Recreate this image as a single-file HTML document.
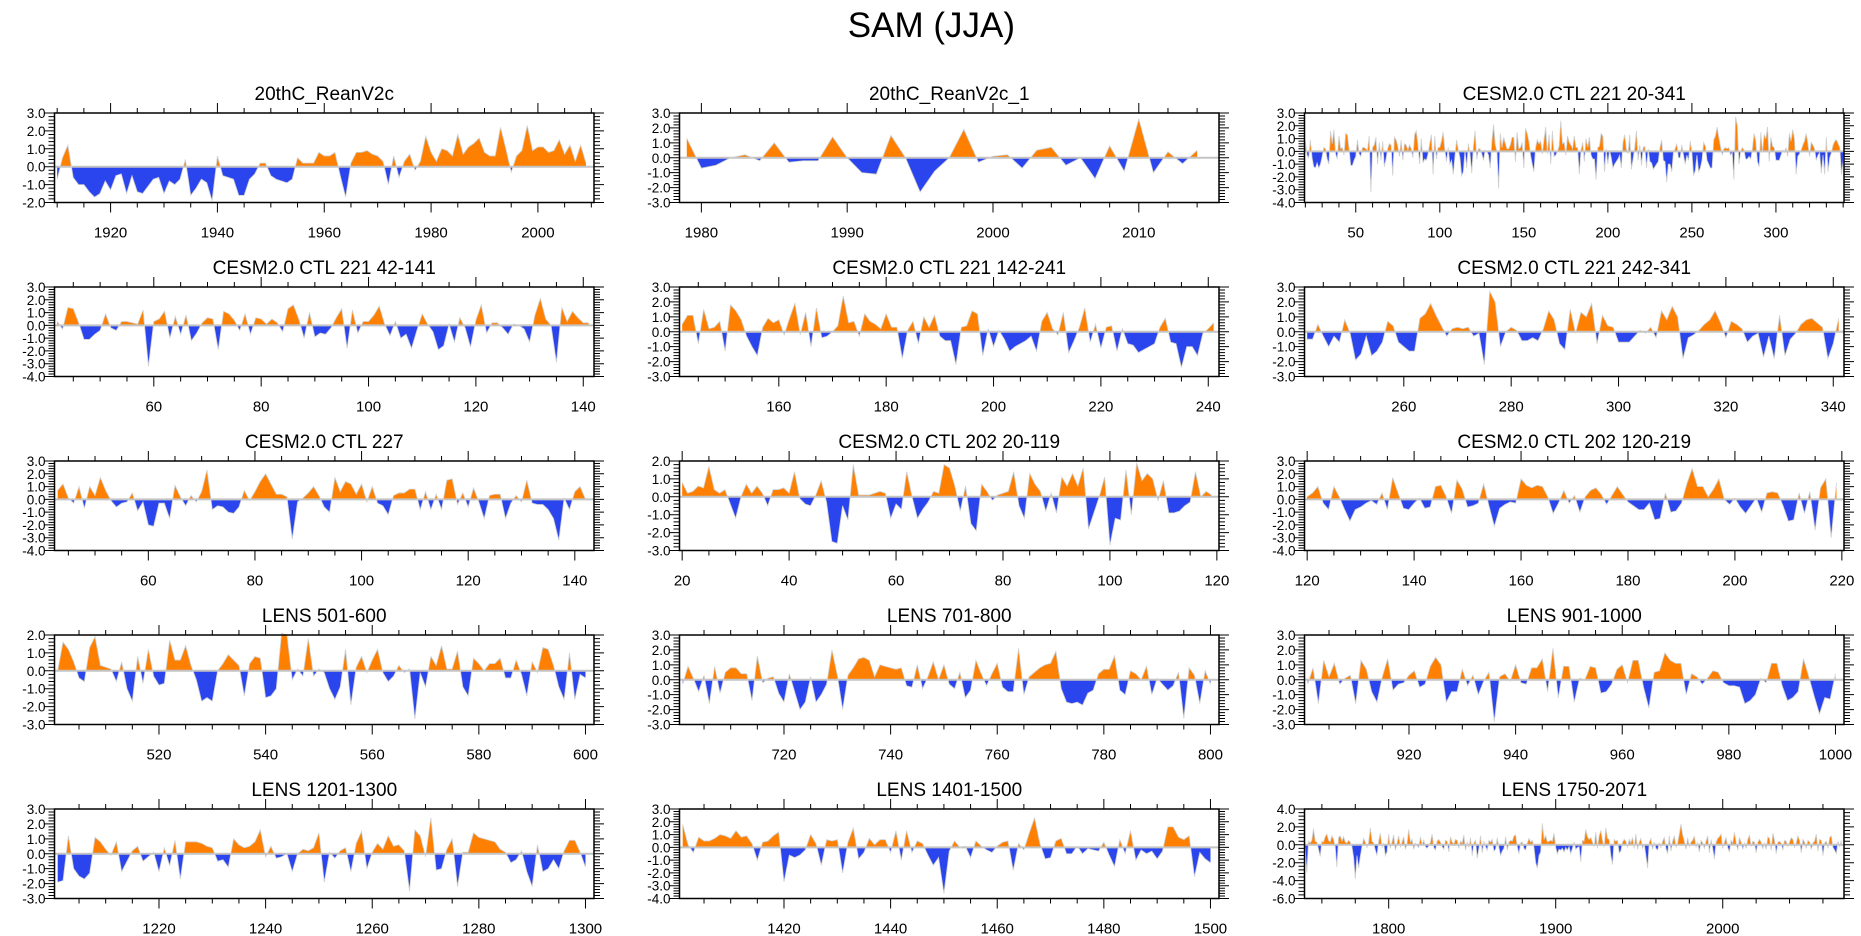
<!DOCTYPE html>
<html><head><meta charset="utf-8"><title>SAM (JJA)</title>
<style>
html,body{margin:0;padding:0;background:#fff;}
svg{display:block;font-family:"Liberation Sans",Arial,sans-serif;}
</style></head>
<body>
<svg id="chart" width="1861" height="936" viewBox="0 0 1861 936" xmlns="http://www.w3.org/2000/svg">
<text x="1015" y="37" text-anchor="end" font-size="35" fill="#000">SAM (JJA)</text>
</svg>
<script>
// ---- data ----
const p1Values=[-0.7,0.5,1.2,-0.6,-1.0,-1.0,-1.4,-1.7,-1.5,-0.8,-1.3,-0.5,-0.4,-1.5,-0.5,-1.4,-1.5,-1.1,-0.7,-0.6,-1.5,-0.8,-1.0,-0.7,0.4,-1.6,-1.2,-0.7,-0.9,-1.9,0.6,-0.5,-0.6,-0.7,-1.6,-1.6,-0.7,-0.4,0.2,0.2,-0.5,-0.7,-0.8,-0.9,-0.7,0.5,0.2,0.2,0.2,0.8,0.6,0.6,0.8,-0.5,-1.7,0.2,0.8,0.8,0.9,0.7,0.6,0.3,-1.0,0.6,-0.6,0.3,0.7,-0.2,0.3,1.7,0.8,0.3,1.0,0.9,0.6,1.8,0.7,1.1,1.3,1.6,0.8,0.6,0.6,2.2,1.0,-0.3,0.6,0.9,2.3,0.9,1.1,1.1,0.8,0.9,1.5,0.7,1.2,0.3,1.2,0.2];
const p2Values=[1.3,-0.7,-0.5,0.0,0.2,-0.2,1.0,-0.3,-0.2,-0.2,1.4,0.0,-1.0,-1.1,1.5,0.0,-2.3,-0.9,0.0,1.9,-0.3,0.1,0.2,-0.7,0.5,0.7,-0.5,0.0,-1.4,0.8,-0.9,2.6,-1.0,0.4,-0.4,0.5];
const p3EarlyValues=[0.8,-0.3,-0.5,0.9,-0.5,-1.2,-1.3,-0.9,-1.3,-1.0,-0.4,0.3,0.2,-0.6,-1.0,1.6,0.6,1.7,-0.2,-0.6,1.2,0.2];
const p4Values=[0.3,-0.3,1.4,1.3,0.2,-1.1,-1.1,-0.7,-0.4,0.9,-0.2,-0.4,0.3,0.3,0.2,0.1,1.2,-3.2,0.3,0.5,1.1,-1.0,0.7,-0.7,0.8,-1.2,-0.6,0.2,0.6,0.5,-1.9,1.1,0.9,0.4,-0.4,0.9,-0.7,0.6,0.5,0.1,0.5,0.2,-0.5,1.3,1.6,0.5,-1.0,1.0,-0.9,-0.6,-0.7,-0.2,0.6,1.3,-1.8,1.2,-0.6,0.3,0.3,0.8,1.5,0.1,-0.8,0.3,-1.0,-0.7,-1.8,-0.4,0.9,0.1,-0.5,-1.9,-1.6,0.1,-1.3,0.6,-0.2,-1.7,0.4,1.6,-0.6,0.2,0.2,-0.2,-0.7,0.1,0.0,-0.3,-1.3,0.8,2.1,0.5,0.0,-2.9,1.4,0.3,1.1,0.6,0.2,0.2];
const p5Values=[0.5,1.1,1.1,-0.8,1.5,0.2,0.3,0.7,-1.3,1.8,1.4,0.8,-0.3,-1.0,-1.6,0.3,0.9,0.6,0.8,-0.2,0.9,1.9,-0.2,1.3,-1.0,1.6,-0.4,-0.3,0.0,0.4,2.4,0.6,0.7,-0.3,1.2,0.7,0.5,0.2,1.2,0.3,0.3,-1.8,0.1,0.7,-0.8,1.0,0.3,1.1,-0.3,-0.6,-0.6,-2.2,0.3,0.4,1.4,1.2,-1.6,0.2,-1.0,0.1,-0.5,-1.3,-1.0,-0.8,-0.6,-0.3,-1.3,0.7,1.3,0.2,-0.2,1.3,-1.4,-0.6,0.3,1.6,-0.7,0.5,-1.1,0.3,0.4,-1.3,0.2,-0.8,-0.9,-1.4,-1.2,-1.0,-0.8,0.3,0.9,-0.7,-0.8,-2.4,-1.0,-1.0,-1.6,-0.1,0.2,0.6];
const p6Values=[-0.5,-0.5,0.5,-0.3,-1.0,-0.3,-0.7,0.8,-0.1,-1.9,-1.5,-0.3,-1.6,-1.3,-0.7,0.7,0.4,-0.7,-1.0,-1.3,-1.3,0.9,1.2,1.9,1.1,0.4,-0.3,0.2,0.3,0.2,0.3,-0.3,-0.1,-2.2,2.7,2.0,-1.0,0.0,0.3,0.1,-0.6,-0.6,-0.4,-0.6,0.2,1.4,0.8,-0.8,-1.2,1.5,-0.1,1.3,1.0,1.9,-0.8,1.1,0.4,0.3,-0.7,-0.7,-0.7,-0.3,0.1,-0.1,0.3,-0.4,1.4,0.8,1.7,1.0,-1.8,-0.4,-0.2,0.1,0.5,0.8,1.4,0.6,-0.4,0.7,0.5,0.2,-0.7,-0.3,-0.1,-1.7,-0.3,-1.8,1.1,-1.6,-0.5,-0.1,0.5,0.8,0.9,0.6,0.3,-1.8,-0.8,0.9];
const p3Values=p3EarlyValues.concat(p4Values,p5Values,p6Values);
const p7Values=[0.7,1.2,0.1,-0.3,1.0,-0.7,1.0,0.3,1.7,0.7,-0.1,-0.6,-0.3,-0.2,0.5,-0.9,-0.2,-2.0,-2.1,-0.3,-0.3,-1.5,1.1,0.2,-0.5,0.3,-0.2,0.6,2.3,-0.8,-0.5,-0.6,-1.0,-1.1,-0.6,0.7,-0.1,0.6,1.4,2.0,1.2,0.4,0.4,0.2,-3.1,-0.2,0.1,0.5,1.0,0.3,-0.6,-1.0,1.7,0.6,1.4,1.2,0.4,1.2,-0.2,1.0,-0.3,-0.5,-1.2,0.3,0.5,0.5,0.8,0.8,-0.8,0.6,-0.8,0.4,-0.8,1.5,1.6,-0.4,0.5,-0.6,0.9,-0.2,-1.5,0.3,0.4,0.4,-1.5,-0.3,0.3,-0.2,1.5,-0.3,-0.4,-0.4,-0.8,-1.5,-3.2,0.1,-0.8,0.6,1.0,0.0];
const p8Values=[0.8,0.2,0.3,0.6,0.5,1.7,0.4,0.2,0.4,-0.4,-1.2,0.0,0.7,0.2,0.6,0.2,-0.5,0.4,0.4,0.5,0.2,1.4,-0.1,-0.4,-0.5,0.1,0.9,-0.3,-2.5,-2.6,-0.5,-1.3,1.8,0.1,0.1,0.1,0.2,0.3,0.2,-1.2,-0.4,-0.7,1.4,0.0,-1.2,-0.7,-0.3,0.3,0.2,1.8,1.6,0.6,-0.8,0.6,-1.5,-1.9,0.7,0.3,-0.2,0.1,0.2,0.3,1.4,-0.5,-1.2,1.3,0.7,0.3,-0.8,0.2,-0.9,1.1,0.6,1.3,0.6,1.6,-1.8,-0.9,0.0,1.1,-2.7,-1.2,-1.3,1.5,-1.0,1.9,0.9,1.3,1.0,-0.2,0.9,-0.9,-0.9,-0.8,-0.5,-0.3,1.4,0.0,0.3,0.1];
const p9Values=[0.2,0.5,1.0,-0.3,-0.8,1.0,0.2,-0.8,-1.7,-0.8,-0.6,-0.3,-0.1,-0.4,0.5,-0.8,1.7,0.5,-0.7,-0.8,-0.3,0.1,-0.7,-0.6,1.0,1.1,0.2,-1.1,1.5,0.8,-0.6,-0.5,-0.3,1.2,-0.5,-2.1,-0.7,-0.4,-0.2,-0.3,1.6,1.1,0.9,1.1,1.0,0.2,-1.1,-0.3,0.7,-0.3,0.3,-1.0,0.2,0.7,0.9,0.4,-0.4,0.3,1.0,0.4,-0.2,-0.5,-0.8,-0.8,-0.3,-1.6,-1.5,0.5,-1.0,-0.9,-0.3,1.2,2.4,1.0,1.0,0.2,0.8,1.6,0.0,-0.4,0.1,-0.6,-1.1,-0.5,0.1,-1.0,0.5,0.6,0.5,-0.5,-1.7,-1.6,0.5,-1.1,0.6,-2.4,0.9,1.6,-3.0,1.3];
const p10Values=[0.0,1.6,1.2,0.5,-0.4,-0.6,1.3,1.9,0.3,0.2,0.1,-0.6,0.5,-1.0,-1.7,0.8,-0.7,1.2,-0.3,-0.8,-0.7,1.7,0.6,0.6,1.4,0.3,-0.5,-1.7,-1.5,-1.7,0.0,0.4,0.9,0.6,0.3,-1.4,0.4,0.8,0.7,-1.5,-1.4,-1.0,2.1,2.0,-0.5,0.1,-0.3,1.8,-0.3,0.1,-0.1,-1.0,-1.6,-0.9,1.2,-1.9,0.2,0.8,-0.1,0.6,1.2,-0.1,-0.6,-0.3,0.3,-0.1,0.1,-2.7,-0.1,-0.9,0.8,0.3,1.4,0.1,0.1,1.1,-0.9,-1.4,0.7,0.4,0.0,0.4,0.4,0.7,-0.4,-0.4,0.6,-0.2,-1.4,0.5,-0.1,1.3,1.2,0.3,-0.9,-1.6,1.0,-1.6,-0.2,-0.4];
const p11Values=[-0.3,0.9,0.1,-0.8,0.3,-1.6,0.9,-0.9,0.5,0.8,0.8,0.4,0.4,-1.4,1.6,-0.2,0.1,0.2,-0.9,-1.5,0.4,-0.8,-2.0,-1.5,0.2,-1.5,-1.0,-0.3,2.0,0.3,-2.0,0.3,0.8,1.4,1.5,1.3,0.2,1.0,0.9,0.8,0.7,0.8,-0.4,-0.5,1.0,-0.6,0.2,1.2,0.0,1.0,-0.3,-0.6,0.5,-1.2,-0.7,1.3,0.4,-0.4,0.4,1.1,-0.5,-0.8,-0.8,2.1,-1.0,0.2,0.5,0.8,1.0,1.1,1.9,-0.6,-1.5,-1.6,-1.5,-1.7,-0.9,-0.7,0.4,0.7,0.7,1.6,-0.7,-1.0,0.6,0.4,0.0,0.9,-1.0,0.1,-0.3,-0.7,-0.4,0.5,-2.6,0.8,0.3,-1.6,0.6,-0.3];
const p12Values=[-0.3,0.8,-1.6,1.3,0.2,1.1,-0.3,0.1,0.3,-1.6,1.3,0.7,-0.8,-1.5,0.2,1.4,-0.7,-0.3,-0.2,0.3,0.6,-0.5,-0.3,0.9,1.5,1.0,-1.5,-0.8,-0.8,0.7,-0.4,0.3,-1.0,-0.1,0.5,-2.8,0.2,0.4,-0.1,1.0,-0.2,-0.3,0.8,0.8,1.4,-0.8,2.1,-1.2,0.9,0.9,-1.5,0.1,0.0,0.9,0.8,-0.9,-0.8,-0.3,0.7,1.0,-0.2,1.3,1.3,-0.5,-1.9,0.5,0.6,1.8,1.3,1.1,1.1,-1.0,0.4,0.2,-0.3,0.1,0.6,0.5,-0.2,-0.4,-0.4,-0.5,-1.6,-1.4,-1.0,0.1,-0.2,1.1,1.1,-0.4,-1.4,-1.2,-0.8,1.4,0.2,-1.1,-2.3,-1.2,-1.3,0.4];
const p13Values=[-1.9,-1.8,1.2,-1.0,-1.5,-1.7,-1.3,1.1,0.8,0.3,-0.1,0.8,-1.2,-0.5,0.2,0.5,-0.5,-0.2,0.1,-1.2,0.4,-0.8,0.9,-1.7,0.8,0.8,0.8,0.7,0.5,0.4,-0.5,-0.4,-0.9,1.0,0.6,0.4,0.5,0.8,1.6,-0.2,0.5,-0.3,-0.2,0.0,-1.2,0.0,0.3,0.2,0.4,1.4,-1.9,0.1,-0.3,0.2,0.4,-1.2,0.7,1.5,-1.0,0.1,0.7,0.3,1.2,0.5,0.6,0.2,-2.5,1.6,1.2,-0.2,2.4,-1.1,-1.0,0.3,1.0,-2.2,0.1,0.1,1.4,1.1,1.0,0.9,0.8,0.3,0.1,-0.6,-0.4,0.2,-1.2,-2.2,0.6,-1.2,-1.0,-0.4,-1.0,0.2,0.9,0.9,0.1,-0.9];
const p14Values=[1.8,0.2,-0.4,0.8,0.5,0.5,0.7,1.0,0.9,0.7,1.3,0.8,0.9,0.3,-1.0,0.4,0.5,0.9,1.2,-2.7,-0.6,-0.8,-0.6,-0.2,1.0,0.3,-1.4,0.6,0.5,0.6,-2.0,0.4,1.5,-0.9,-0.4,0.7,0.2,0.6,0.6,-0.4,1.3,-1.0,1.3,-0.4,0.5,0.3,-0.6,-1.4,-0.8,-3.6,-0.3,0.5,0.0,0.1,-0.8,0.5,0.1,-0.2,-0.4,0.1,0.4,0.5,-1.8,0.3,-0.2,1.1,2.3,0.3,-0.9,-0.8,0.5,0.7,-0.5,-0.5,0.1,-0.5,-0.1,-0.2,-0.3,0.4,-0.6,-1.5,0.6,-0.5,1.3,-1.0,-0.2,-0.5,-0.3,-0.9,-0.3,1.6,1.6,0.8,0.6,0.9,-2.3,-0.4,-0.9,-1.2];
const p15Values=[-0.3,-3.1,0.4,0.2,0.5,1.8,0.4,0.3,-0.5,-1.3,0.4,0.3,0.9,1.2,0.5,0.3,1.0,0.6,-0.2,-2.5,
0.8,1.0,0.4,0.9,0.3,0.2,0.5,0.3,-0.2,-1.4,-3.8,-1.2,-2.6,-1.3,-0.2,0.7,0.3,-0.3,0.3,1.9,
0.4,0.2,-0.6,-1.2,0.4,1.3,-0.3,0.2,-1.2,-0.8,1.2,-0.4,0.3,1.1,-0.6,0.2,1.0,-0.3,0.3,0.9,
-0.5,0.1,1.7,0.3,0.6,-0.5,0.2,-0.1,-0.3,0.9,0.0,0.5,-0.2,-0.4,-0.1,0.3,1.2,-0.3,-0.6,0.4,
0.6,0.3,-0.2,-0.5,0.5,0.4,-0.8,0.9,0.3,0.1,0.6,0.5,-0.4,0.4,0.2,1.1,-0.6,0.3,-0.3,0.8,
-1.2,0.2,0.5,-1.5,-0.4,1.0,-0.9,0.4,-0.2,-0.6,0.5,0.3,0.6,-0.7,-0.5,0.8,-0.3,-1.2,-0.7,-0.4,
0.9,-0.6,0.3,0.5,0.4,1.0,1.1,-0.2,-1.0,0.2,0.3,-0.4,-0.6,0.2,0.7,0.3,0.5,-0.3,-2.0,-2.6,
-1.2,-0.8,2.4,0.6,1.0,0.3,0.4,0.5,0.4,1.3,-0.3,-1.0,-0.5,-0.6,-0.4,-0.8,-0.3,-0.6,-0.2,-1.0,
-0.4,0.3,-0.5,-0.3,-0.2,-1.9,0.5,0.4,1.7,0.9,0.6,0.8,0.3,-0.2,1.4,-0.4,1.0,1.6,0.5,-0.3,
1.9,0.7,0.6,-1.2,-2.2,0.6,0.4,0.5,-0.9,-0.7,0.3,0.6,0.4,-0.3,0.6,0.2,0.8,-0.4,1.2,-0.5,
0.3,0.7,-0.4,0.1,-1.2,-2.6,0.3,0.7,-0.5,0.3,-0.4,-0.6,0.2,-0.3,0.4,0.8,-0.4,-1.0,1.0,-0.7,
0.4,1.0,-0.3,0.2,1.2,2.3,1.1,0.4,-0.5,0.8,-0.2,0.3,0.5,1.0,-0.3,0.2,-0.8,0.5,0.2,-0.4,
0.4,1.0,-0.9,0.6,-0.4,-1.6,0.3,0.7,0.9,1.2,-0.4,0.3,0.8,-0.3,-0.8,0.5,0.2,1.4,0.3,-0.6,
0.8,0.3,-0.5,0.2,-0.4,0.6,1.1,-0.2,0.4,0.3,-0.9,0.3,0.6,0.3,-0.4,0.2,-0.5,0.9,0.7,-0.6,
1.3,0.5,-1.0,0.3,0.4,0.2,-0.6,0.5,0.4,-0.2,0.3,0.8,0.6,-0.3,0.2,1.0,0.5,-0.9,0.6,0.3,
-0.4,0.5,0.3,-0.5,0.2,0.4,1.2,-0.7,0.6,0.5,-1.2,0.2,0.4,-0.4,0.8,1.0,-0.3,-0.6,-1.0,0.4,
-0.2,0.5];

// ---- tick labels ----
const p1Ticks=[1920,1940,1960,1980,2000];
const p2Ticks=[1980,1990,2000,2010];
const p3Ticks=[50,100,150,200,250,300];
const p4Ticks=[60,80,100,120,140];
const p5Ticks=[160,180,200,220,240];
const p6Ticks=[260,280,300,320,340];
const p7Ticks=[60,80,100,120,140];
const p8Ticks=[20,40,60,80,100,120];
const p9Ticks=[120,140,160,180,200,220];
const p10Ticks=[520,540,560,580,600];
const p11Ticks=[720,740,760,780,800];
const p12Ticks=[920,940,960,980,1000];
const p13Ticks=[1220,1240,1260,1280,1300];
const p14Ticks=[1420,1440,1460,1480,1500];
const p15Ticks=[1800,1900,2000];

// ---- layout / axis config ----
const colX=[54.5,679.5,1304.5], rowY=[113,287,461,635,809], PW=539.5, PH=89.5;
const panels=[
 {t:"20thC_ReanV2c",c:0,r:0,d:p1Values,s:1910,x0:1909.5,x1:2010.5,y0:-2,y1:3,ys:1,tk:p1Ticks,mn:5},
 {t:"20thC_ReanV2c_1",c:1,r:0,d:p2Values,s:1979,x0:1978.5,x1:2015.5,y0:-3,y1:3,ys:1,tk:p2Ticks,mn:2},
 {t:"CESM2.0 CTL 221 20-341",c:2,r:0,d:p3Values,s:20,x0:19.5,x1:340.5,y0:-4,y1:3,ys:1,tk:p3Ticks,mn:10},
 {t:"CESM2.0 CTL 221 42-141",c:0,r:1,d:p4Values,s:42,x0:41.5,x1:142,y0:-4,y1:3,ys:1,tk:p4Ticks,mn:5},
 {t:"CESM2.0 CTL 221 142-241",c:1,r:1,d:p5Values,s:142,x0:141.5,x1:242,y0:-3,y1:3,ys:1,tk:p5Ticks,mn:5},
 {t:"CESM2.0 CTL 221 242-341",c:2,r:1,d:p6Values,s:242,x0:241.5,x1:342,y0:-3,y1:3,ys:1,tk:p6Ticks,mn:5},
 {t:"CESM2.0 CTL 227",c:0,r:2,d:p7Values,s:43,x0:42.4,x1:143.6,y0:-4,y1:3,ys:1,tk:p7Ticks,mn:5},
 {t:"CESM2.0 CTL 202 20-119",c:1,r:2,d:p8Values,s:20,x0:19.5,x1:120.4,y0:-3,y1:2,ys:1,tk:p8Ticks,mn:5},
 {t:"CESM2.0 CTL 202 120-219",c:2,r:2,d:p9Values,s:120,x0:119.5,x1:220.4,y0:-4,y1:3,ys:1,tk:p9Ticks,mn:5},
 {t:"LENS 501-600",c:0,r:3,d:p10Values,s:501,x0:500.4,x1:601.6,y0:-3,y1:2,ys:1,tk:p10Ticks,mn:5},
 {t:"LENS 701-800",c:1,r:3,d:p11Values,s:701,x0:700.4,x1:801.6,y0:-3,y1:3,ys:1,tk:p11Ticks,mn:5},
 {t:"LENS 901-1000",c:2,r:3,d:p12Values,s:901,x0:900.4,x1:1001.6,y0:-3,y1:3,ys:1,tk:p12Ticks,mn:5},
 {t:"LENS 1201-1300",c:0,r:4,d:p13Values,s:1201,x0:1200.4,x1:1301.6,y0:-3,y1:3,ys:1,tk:p13Ticks,mn:5},
 {t:"LENS 1401-1500",c:1,r:4,d:p14Values,s:1401,x0:1400.4,x1:1501.6,y0:-4,y1:3,ys:1,tk:p14Ticks,mn:5},
 {t:"LENS 1750-2071",c:2,r:4,d:p15Values,s:1750,x0:1749.6,x1:2072.6,y0:-6,y1:4,ys:2,tk:p15Ticks,mn:20}
];
const NS="http://www.w3.org/2000/svg";
const svg=document.getElementById('chart');
function mk(tag,attrs,parent){const e=document.createElementNS(NS,tag);for(const k in attrs)e.setAttribute(k,attrs[k]);(parent||svg).appendChild(e);return e;}
panels.forEach((p,pi)=>{
  const L=colX[p.c],T=rowY[p.r],W=PW,H=PH;
  const sx=v=>L+(v-p.x0)/(p.x1-p.x0)*W;
  const sy=v=>T+(p.y1-v)/(p.y1-p.y0)*H;
  const g=mk('g',{});
  
  
  const title=mk('text',{x:L+W/2,y:T-13,'text-anchor':'middle','font-size':19,fill:'#000'},g);
  title.textContent=p.t;
  
  
  const defs=mk('defs',{},g);
  const z=sy(0);
  const cpA=mk('clipPath',{id:'ca'+pi},defs); mk('rect',{x:L,y:T,width:W,height:z-T},cpA);
  const cpB=mk('clipPath',{id:'cb'+pi},defs); mk('rect',{x:L,y:z,width:W,height:T+H-z},cpB);
  let pts=p.d.map((v,i)=>sx(p.s+i).toFixed(2)+','+sy(v).toFixed(2));
  const area='M'+sx(p.s).toFixed(2)+','+z+' L'+pts.join(' L')+' L'+sx(p.s+p.d.length-1).toFixed(2)+','+z+' Z';
  const a1=mk('path',{d:area,fill:'#FF8000','clip-path':'url(#ca'+pi+')'},g);
  
  
  const a2=mk('path',{d:area,fill:'#2B45EE','clip-path':'url(#cb'+pi+')'},g);
  
  
  const zl=mk('line',{x1:L,x2:L+W,y1:z,y2:z,stroke:'#c4c4c4','stroke-width':2},g);
  
  
  const ln=mk('polyline',{points:pts.join(' '),fill:'none',stroke:'#cfcfcf','stroke-width':0.8},g);
  
  
  const fr=mk('rect',{x:L,y:T,width:W,height:H,fill:'none',stroke:'#000','stroke-width':1.5},g);
  
  
  let d='';
  for(let v=Math.ceil(p.x0/p.mn)*p.mn; v<=p.x1; v+=p.mn){
    const x=sx(v).toFixed(2); const maj=p.tk.indexOf(v)>=0; const len=maj?10:5;
    d+='M'+x+','+T+'v'+(-len)+'M'+x+','+(T+H)+'v'+len;
  }
  const ysm=p.ys/5;
  for(let k=0;k<=Math.round((p.y1-p.y0)/ysm);k++){
    const v=p.y0+k*ysm; const y=sy(v).toFixed(2); const maj=(k%5===0); const len=maj?10:6;
    d+='M'+L+','+y+'h'+(-len)+'M'+(L+W)+','+y+'h'+len;
  }
  const tp=mk('path',{d:d,stroke:'#000','stroke-width':1,fill:'none'},g);
  
  
  p.tk.forEach(v=>{
    const t=mk('text',{x:sx(v),y:T+H+35,'text-anchor':'middle','font-size':15,fill:'#000'},g);
    t.textContent=String(v);
    
    
  });
  for(let v=p.y0; v<=p.y1+1e-9; v+=p.ys){
    const t=mk('text',{x:L-9,y:sy(v)+5,'text-anchor':'end','font-size':13.5,fill:'#000'},g);
    t.textContent=v.toFixed(1);
    
    
  }
});
</script>
</body></html>
